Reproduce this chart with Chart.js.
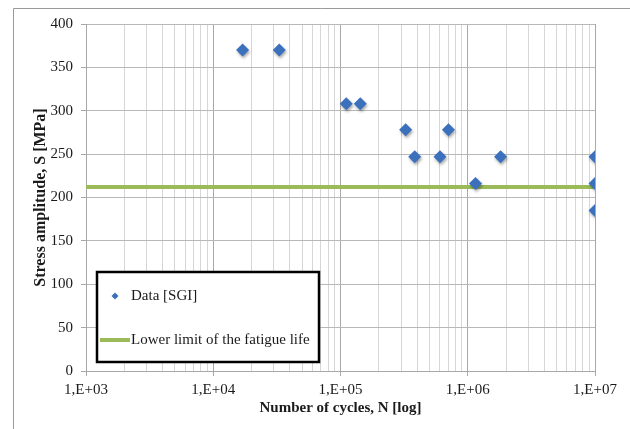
<!DOCTYPE html>
<html>
<head>
<meta charset="utf-8">
<script src="https://cdn.jsdelivr.net/npm/chart.js@4/dist/chart.umd.min.js"></script>
<style>
  html, body { margin: 0; padding: 0; background: #fff; }
  #wrap { position: relative; width: 630px; height: 429px; }
</style>
</head>
<body>
<div id="wrap"><canvas id="snChart"></canvas></div>
<script>
// test data
const cycles = [17000, 33000, 111000, 143000, 325000, 383000, 605000, 705000, 1150000, 1810000, 10000000, 10000000, 10000000];
const stress = [370, 370, 308, 308, 278, 247, 247, 278, 216, 247, 247, 216, 185];

// lower limit line
const limitCycles = [1000, 10000000];
const limitStress = [212, 212];

const yTicks = [0, 50, 100, 150, 200, 250, 300, 350, 400];
const decadeLabels = ["1,E+03", "1,E+04", "1,E+05", "1,E+06", "1,E+07"];

const seriesLabels = ["Data [SGI]", "Lower limit of the fatigue life"];

const blue = "#3b70bd";
const green = "#9bbb59";
const FONT = "'Liberation Serif', 'Times New Roman', serif";

const isDecade = (v) => Math.abs(Math.log10(v) - Math.round(Math.log10(v))) < 1e-9;

const framePlugin = {
  id: "frame",
  beforeDraw(chart) {
    const ctx = chart.ctx;
    ctx.save();
    ctx.strokeStyle = "#9a9a9a";
    ctx.lineWidth = 1;
    ctx.beginPath();
    ctx.moveTo(13.5, chart.height);
    ctx.lineTo(13.5, 8.5);
    ctx.lineTo(chart.width, 8.5);
    ctx.stroke();
    ctx.restore();
  },
};

const shadowPlugin = {
  id: "markerShadow",
  beforeDatasetDraw(chart, args) {
    if (args.index !== 0) return;
    const ctx = chart.ctx;
    ctx.save();
    ctx.shadowColor = "rgba(0,0,0,0.35)";
    ctx.shadowBlur = 3;
    ctx.shadowOffsetX = 1;
    ctx.shadowOffsetY = 2;
  },
  afterDatasetDraw(chart, args) {
    if (args.index !== 0) return;
    chart.ctx.restore();
  },
};

const boxLegend = {
  id: "boxLegend",
  afterDraw(chart) {
    const { ctx, chartArea } = chart;
    const ds = chart.data.datasets;
    const x = chartArea.left + 11;
    const y = chartArea.bottom - 99;
    const w = 222;
    const h = 90;
    ctx.save();
    ctx.fillStyle = "#fff";
    ctx.fillRect(x, y, w, h);
    ctx.strokeStyle = "#000";
    ctx.lineWidth = 2.5;
    ctx.strokeRect(x, y, w, h);

    ctx.font = "15px " + FONT;
    ctx.textBaseline = "middle";

    // marker entry
    ctx.fillStyle = ds[0].backgroundColor;
    ctx.beginPath();
    ctx.moveTo(x + 18 - 3.5, y + 24);
    ctx.lineTo(x + 18, y + 24 - 3.5);
    ctx.lineTo(x + 18 + 3.5, y + 24);
    ctx.lineTo(x + 18, y + 24 + 3.5);
    ctx.closePath();
    ctx.fill();
    ctx.fillStyle = "#1a1a1a";
    ctx.fillText(ds[0].label, x + 34, y + 24);

    // line entry
    ctx.strokeStyle = ds[1].borderColor;
    ctx.lineWidth = 4;
    ctx.beginPath();
    ctx.moveTo(x + 3, y + 68);
    ctx.lineTo(x + 33, y + 68);
    ctx.stroke();
    ctx.fillText(ds[1].label, x + 34, y + 68);
    ctx.restore();
  },
};

new Chart(document.getElementById("snChart"), {
  type: "scatter",
  data: {
    datasets: [
      {
        label: seriesLabels[0],
        data: cycles.map((c, i) => ({ x: c, y: stress[i] })),
        backgroundColor: blue,
        borderColor: blue,
        pointStyle: "rectRot",
        pointRadius: 6.5,
        pointBorderWidth: 0,
      },
      {
        label: seriesLabels[1],
        data: limitCycles.map((c, i) => ({ x: c, y: limitStress[i] })),
        showLine: true,
        borderColor: green,
        backgroundColor: green,
        borderWidth: 4,
        pointRadius: 0,
      },
    ],
  },
  options: {
    responsive: true,
    maintainAspectRatio: false,
    animation: false,
    layout: { padding: { left: 0, right: 35, top: 24, bottom: 0 } },
    plugins: {
      legend: { display: false },
      tooltip: { enabled: false },
    },
    scales: {
      x: {
        type: "logarithmic",
        min: 1000,
        max: 10000000,
        afterBuildTicks(scale) {
          const t = [];
          for (let e = 3; e < 7; e++) {
            for (let m = 1; m < 10; m++) t.push({ value: m * Math.pow(10, e) });
          }
          t.push({ value: 1e7 });
          scale.ticks = t;
        },
        afterFit(scale) { scale.height = 58; },
        ticks: {
          autoSkip: false,
          maxRotation: 0,
          padding: 5,
          color: "#1a1a1a",
          font: { family: FONT, size: 15 },
          callback(v) {
            return isDecade(v) ? decadeLabels[Math.round(Math.log10(v)) - 3] : "";
          },
        },
        grid: {
          color: (c) => (c.tick && isDecade(c.tick.value) ? "#a8a8a8" : "#d6d6d6"),
          tickColor: (c) => (c.tick && isDecade(c.tick.value) ? "#a8a8a8" : "rgba(0,0,0,0)"),
          tickLength: 5,
        },
        border: { color: "#a8a8a8" },
        title: {
          display: true,
          text: "Number of cycles, N [log]",
          color: "#1a1a1a",
          font: { family: FONT, size: 15, weight: "bold" },
          padding: { top: 0, bottom: 12 },
        },
      },
      y: {
        min: 0,
        max: 400,
        afterBuildTicks(scale) { scale.ticks = yTicks.map((v) => ({ value: v })); },
        afterFit(scale) { scale.width = 86; },
        ticks: {
          padding: 8,
          color: "#1a1a1a",
          font: { family: FONT, size: 15 },
        },
        grid: { color: "#b8b8b8", tickColor: "#a8a8a8", tickLength: 5 },
        border: { color: "#a8a8a8" },
        title: {
          display: true,
          text: "Stress amplitude, S [MPa]",
          color: "#1a1a1a",
          font: { family: FONT, size: 16, weight: "bold" },
          padding: { top: 31, bottom: 0 },
        },
      },
    },
  },
  plugins: [framePlugin, shadowPlugin, boxLegend],
});
</script>
</body>
</html>
